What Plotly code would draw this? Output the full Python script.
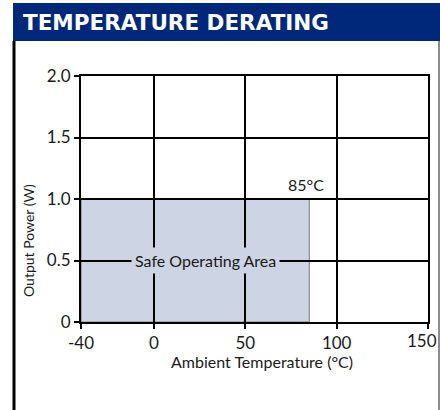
import plotly.graph_objects as go

# ---- data ----
title_text = "TEMPERATURE DERATING"
x_ticks = [-40, 0, 50, 100, 150]
x_ticklabels = ["-40", "0", "50", "100", "150"]
y_ticks = [0, 0.5, 1.0, 1.5, 2.0]
y_ticklabels = ["0", "0.5", "1.0", "1.5", "2.0"]
safe_temp = [-40, 85]        # operating temperature span (°C)
safe_power = [0, 1.0]        # output power span (W)
x_title = "Ambient Temperature (°C)"
y_title = "Output Power (W)"
area_label = "Safe Operating Area"
limit_label = "85°C"

# ---- layout geometry (pixels) ----
W, H = 440, 410
ML, MR, MT, MB = 81, 12, 76, 88
PW, PH = W - ML - MR, H - MT - MB

def px(xp):
    return (xp - ML) / PW

def py(yp):
    return (H - MB - yp) / PH

NAVY = "#00287A"
FILL = "#CDD4E3"
FONT = "Lato"
TXT = "#1a1a1a"
TICK_SIZE = 17

fig = go.Figure()
# invisible trace to anchor axes
fig.add_trace(go.Scatter(x=safe_temp, y=safe_power, mode="markers",
                         marker=dict(opacity=0), hoverinfo="skip", showlegend=False))

shapes = [
    # safe operating area (below gridlines)
    dict(type="rect", xref="x", yref="y", x0=safe_temp[0], x1=safe_temp[1],
         y0=safe_power[0], y1=safe_power[1], fillcolor=FILL,
         line=dict(color="#777777", width=1), layer="below"),
    # header bar
    dict(type="rect", xref="paper", yref="paper", x0=px(13), x1=px(441),
         y0=py(41), y1=py(3), fillcolor=NAVY, line=dict(width=0), layer="above"),
    # left border
    dict(type="line", xref="paper", yref="paper", x0=px(14), x1=px(14),
         y0=py(41), y1=py(412), line=dict(color="black", width=3)),
    # right border
    dict(type="line", xref="paper", yref="paper", x0=px(439), x1=px(439),
         y0=py(41), y1=py(412), line=dict(color="#666666", width=1.5)),
]

annotations = [
    dict(text="<b>" + title_text + "</b>", xref="paper", yref="paper",
         x=px(21), y=py(22), xanchor="left", yanchor="middle", showarrow=False,
         font=dict(family="DejaVu Sans", size=21.5, color="white")),
    dict(text=y_title, xref="paper", yref="paper", x=px(29), y=py(241),
         xanchor="center", yanchor="middle", textangle=-90, showarrow=False,
         font=dict(family=FONT, size=14, color=TXT)),
    dict(text=x_title, xref="paper", yref="paper", x=px(262), y=py(361),
         xanchor="center", yanchor="middle", showarrow=False,
         font=dict(family=FONT, size=16, color=TXT)),
    dict(text=area_label, xref="x", yref="y",
         x=(safe_temp[0] + safe_temp[1]) / 2, y=(safe_power[0] + safe_power[1]) / 2,
         xanchor="center", yanchor="middle", xshift=10, showarrow=False, bgcolor=FILL,
         borderpad=3, font=dict(family=FONT, size=16, color=TXT)),
    dict(text=limit_label, xref="x", yref="y", x=safe_temp[1], y=safe_power[1],
         xanchor="center", yanchor="bottom", yshift=3, xshift=-3, showarrow=False,
         font=dict(family=FONT, size=16, color=TXT)),
    # last x tick label, nudged left so it stays inside the page
    dict(text=x_ticklabels[-1], xref="x", yref="y", x=x_ticks[-1], y=y_ticks[0],
         xanchor="center", yanchor="top", xshift=-6, yshift=-6, showarrow=False,
         font=dict(family=FONT, size=TICK_SIZE, color=TXT)),
]

axis_common = dict(showgrid=True, gridcolor="black", gridwidth=2,
                   showline=True, linecolor="black", linewidth=2, mirror=True,
                   ticks="outside", ticklen=5, tickwidth=2, tickcolor="black",
                   zeroline=False, automargin=False,
                   tickfont=dict(family=FONT, size=TICK_SIZE, color=TXT))

fig.update_layout(
    width=W, height=H,
    margin=dict(l=ML, r=MR, t=MT, b=MB),
    paper_bgcolor="white", plot_bgcolor="white",
    shapes=shapes, annotations=annotations, showlegend=False,
    xaxis=dict(range=[x_ticks[0], x_ticks[-1]], tickvals=x_ticks,
               ticktext=x_ticklabels[:-1] + [""], **axis_common),
    yaxis=dict(range=[y_ticks[0], y_ticks[-1]], tickvals=y_ticks,
               ticktext=y_ticklabels, ticklabelstandoff=0, **axis_common),
)

fig.write_html("out.html", config={"displayModeBar": False},
               post_script="document.body.style.margin='0';document.body.style.padding='0';")
